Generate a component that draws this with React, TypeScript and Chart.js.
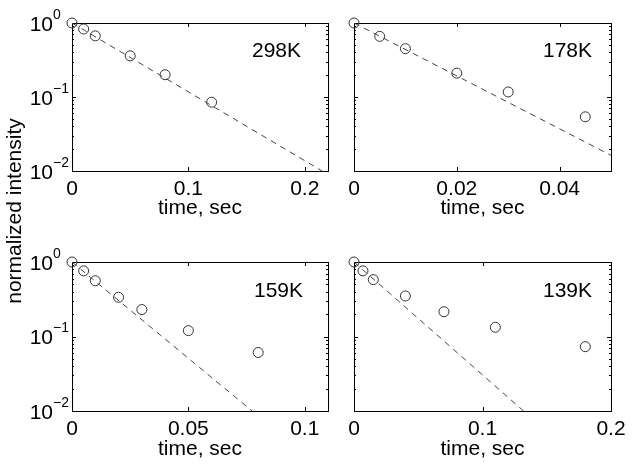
import React, { useEffect, useRef } from "react";
import { Chart, registerables } from "chart.js";
Chart.register(...registerables);

// ---- data ----
const t298 = [0, 0.01, 0.02, 0.05, 0.08, 0.12];
const i298 = [1.0, 0.83, 0.67, 0.36, 0.2, 0.085];
const fitT298 = [0, 0.215];
const fitI298 = [1, 0.01];

const t178 = [0, 0.005, 0.01, 0.02, 0.03, 0.045];
const i178 = [1.0, 0.66, 0.45, 0.21, 0.117, 0.054];
const fitT178 = [0, 0.05];
const fitI178 = [1, 0.0163];

const t159 = [0, 0.005, 0.01, 0.02, 0.03, 0.05, 0.08];
const i159 = [1.0, 0.76, 0.56, 0.336, 0.23, 0.12, 0.061];
const fitT159 = [0, 0.0774];
const fitI159 = [1, 0.01];

const t139 = [0, 0.007, 0.015, 0.04, 0.07, 0.11, 0.18];
const i139 = [1.0, 0.76, 0.58, 0.35, 0.215, 0.133, 0.073];
const fitT139 = [0, 0.132];
const fitI139 = [1, 0.01];

const xTicks298 = [0, 0.1, 0.2];
const xTicks178 = [0, 0.02, 0.04];
const xTicks159 = [0, 0.05, 0.1];
const xTicks139 = [0, 0.1, 0.2];
const xMax298 = 0.22;
const xMax178 = 0.05;
const xMax159 = 0.11;
const xMax139 = 0.2;

const yTicks = [0.01, 0.1, 1];
const yTickExponents = ["\u22122", "\u22121", "0"];
const yMin = 0.01;
const yMax = 1;

const xTitle = "time, sec";
const yTitle = "normalized intensity";

const FONT = '"Liberation Sans", Arial, Helvetica, sans-serif';

type Panel = {
  label: string;
  t: number[];
  i: number[];
  fitT: number[];
  fitI: number[];
  xMax: number;
  xTicks: number[];
  showY: boolean;
  left: number;
  top: number;
  width: number;
  height: number;
  pad: { left: number; top: number; right: number };
  xAxisHeight: number;
  titlePadBottom: number;
  labelRight: number;
  labelBaseline: number;
};

const panels: Panel[] = [
  {
    label: "298K", t: t298, i: i298, fitT: fitT298, fitI: fitI298, xMax: xMax298, xTicks: xTicks298,
    showY: true, left: 0, top: 0, width: 342, height: 240,
    pad: { left: 72, top: 23, right: 14 }, xAxisHeight: 69, titlePadBottom: 19,
    labelRight: 27, labelBaseline: 34,
  },
  {
    label: "178K", t: t178, i: i178, fitT: fitT178, fitI: fitI178, xMax: xMax178, xTicks: xTicks178,
    showY: false, left: 342, top: 0, width: 290, height: 240,
    pad: { left: 12, top: 23, right: 21 }, xAxisHeight: 69, titlePadBottom: 19,
    labelRight: 19, labelBaseline: 34,
  },
  {
    label: "159K", t: t159, i: i159, fitT: fitT159, fitI: fitI159, xMax: xMax159, xTicks: xTicks159,
    showY: true, left: 0, top: 240, width: 342, height: 227,
    pad: { left: 72, top: 22, right: 14 }, xAxisHeight: 56, titlePadBottom: 5,
    labelRight: 25, labelBaseline: 35,
  },
  {
    label: "139K", t: t139, i: i139, fitT: fitT139, fitI: fitI139, xMax: xMax139, xTicks: xTicks139,
    showY: false, left: 342, top: 240, width: 290, height: 227,
    pad: { left: 12, top: 22, right: 21 }, xAxisHeight: 56, titlePadBottom: 5,
    labelRight: 19, labelBaseline: 35,
  },
];

const axesPlugin = {
  id: "matlabAxes",
  beforeDatasetsDraw(chart: any, _args: any, opts: any) {
    const { ctx, chartArea, scales } = chart;
    const { left, right, top, bottom } = chartArea;
    const x = scales.x;
    const y = scales.y;
    ctx.save();
    ctx.strokeStyle = "#000";
    ctx.lineWidth = 1;
    ctx.strokeRect(Math.round(left) + 0.5, Math.round(top) + 0.5, Math.round(right - left), Math.round(bottom - top));
    ctx.beginPath();
    // x major ticks (top & bottom, inward)
    for (const v of opts.xTicks as number[]) {
      const px = Math.round(x.getPixelForValue(v)) + 0.5;
      ctx.moveTo(px, bottom);
      ctx.lineTo(px, bottom - 4);
      ctx.moveTo(px, top);
      ctx.lineTo(px, top + 4);
    }
    // y major ticks
    for (const v of yTicks) {
      const py = Math.round(y.getPixelForValue(v)) + 0.5;
      ctx.moveTo(left, py);
      ctx.lineTo(left + 4, py);
      ctx.moveTo(right, py);
      ctx.lineTo(right - 4, py);
    }
    // y minor ticks
    for (let k = 0; k < yTicks.length - 1; k++) {
      for (let m = 2; m <= 9; m++) {
        const py = Math.round(y.getPixelForValue(yTicks[k] * m)) + 0.5;
        ctx.moveTo(left, py);
        ctx.lineTo(left + 2, py);
        ctx.moveTo(right, py);
        ctx.lineTo(right - 2, py);
      }
    }
    ctx.stroke();

    ctx.fillStyle = "#000";
    if (opts.showY) {
      yTicks.forEach((v, idx) => {
        const py = y.getPixelForValue(v);
        ctx.font = `21px ${FONT}`;
        ctx.textAlign = "right";
        ctx.textBaseline = "alphabetic";
        ctx.fillText("10", left - 19, py + 7.5);
        ctx.font = `14px ${FONT}`;
        ctx.textAlign = "left";
        ctx.fillText(yTickExponents[idx], left - 19, py - 4.5);
      });
    }
    ctx.font = `21px ${FONT}`;
    ctx.textAlign = "right";
    ctx.textBaseline = "alphabetic";
    ctx.fillText(opts.label, right - opts.labelRight, top + opts.labelBaseline);
    ctx.restore();
  },
};

function PanelChart({ p }: { p: Panel }) {
  const ref = useRef<HTMLCanvasElement | null>(null);
  useEffect(() => {
    if (!ref.current) return;
    const chart = new Chart(ref.current, {
      type: "scatter",
      data: {
        datasets: [
          {
            data: p.fitT.map((tv, k) => ({ x: tv, y: p.fitI[k] })),
            showLine: true,
            borderColor: "#444",
            borderWidth: 1,
            borderDash: [6, 5],
            pointRadius: 0,
          },
          {
            data: p.t.map((tv, k) => ({ x: tv, y: p.i[k] })),
            showLine: false,
            borderColor: "#333",
            backgroundColor: "rgba(0,0,0,0)",
            pointRadius: 5,
            pointBorderWidth: 1,
            pointBorderColor: "#333",
            pointBackgroundColor: "rgba(0,0,0,0)",
            clip: false as any,
          },
        ],
      },
      options: {
        animation: false,
        responsive: false,
        events: [],
        layout: { padding: { left: p.pad.left, top: p.pad.top, right: p.pad.right, bottom: 0 } },
        plugins: {
          legend: { display: false },
          tooltip: { enabled: false },
          // @ts-ignore
          matlabAxes: { xTicks: p.xTicks, showY: p.showY, label: p.label, labelRight: p.labelRight, labelBaseline: p.labelBaseline },
        },
        scales: {
          x: {
            type: "linear",
            min: 0,
            max: p.xMax,
            grid: { display: false, drawTicks: false },
            border: { display: false },
            afterBuildTicks: (scale: any) => {
              scale.ticks = p.xTicks.map((v) => ({ value: v }));
            },
            afterFit: (scale: any) => {
              scale.height = p.xAxisHeight;
            },
            ticks: {
              color: "#000",
              padding: 6,
              maxRotation: 0,
              autoSkip: false,
              font: { family: FONT, size: 21 },
              callback: (v: any) => String(v),
            },
            title: {
              display: true,
              text: xTitle,
              color: "#000",
              font: { family: FONT, size: 21 },
              padding: { top: 0, bottom: p.titlePadBottom },
            },
          },
          y: {
            type: "logarithmic",
            display: false,
            min: yMin,
            max: yMax,
          },
        },
      },
      plugins: [axesPlugin as any],
    } as any);
    return () => chart.destroy();
  }, [p]);
  return (
    <canvas
      ref={ref}
      width={p.width}
      height={p.height}
      style={{ position: "absolute", left: p.left, top: p.top, width: p.width, height: p.height }}
    />
  );
}

export default function App() {
  return (
    <div
      style={{
        position: "fixed",
        left: 0,
        top: 0,
        width: 632,
        height: 467,
        background: "#fff",
        overflow: "hidden",
      }}
    >
      {panels.map((p) => (
        <PanelChart key={p.label} p={p} />
      ))}
      <div
        style={{
          position: "absolute",
          left: 13.7 - 150,
          top: 211 - 12,
          width: 300,
          height: 24,
          lineHeight: "24px",
          textAlign: "center",
          transform: "rotate(-90deg)",
          font: `21px ${FONT}`,
          color: "#000",
          whiteSpace: "nowrap",
        }}
      >
        {yTitle}
      </div>
    </div>
  );
}
